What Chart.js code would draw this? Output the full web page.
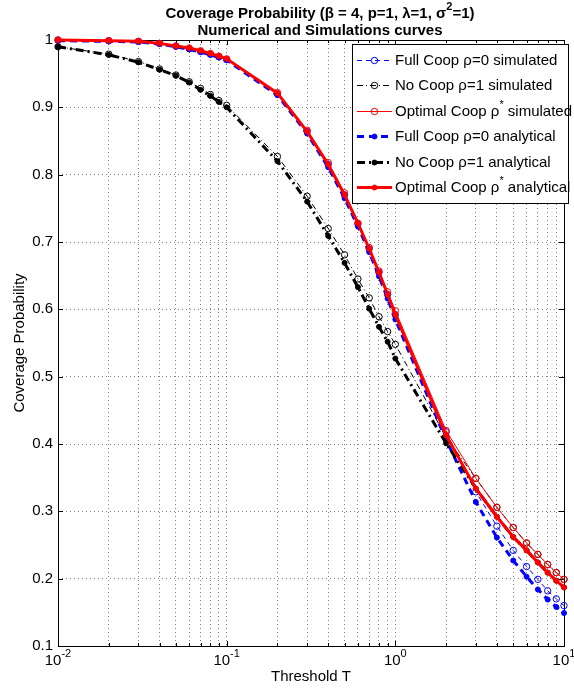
<!DOCTYPE html>
<html>
<head>
<meta charset="utf-8">
<script src="https://cdn.jsdelivr.net/npm/chart.js@4.4.1/dist/chart.umd.min.js"></script>
<style>
    body { margin: 0; background: #fff; }
    #wrap { width: 574px; height: 690px; }
</style>
</head>
<body>
<div id="wrap"><canvas id="coverage-chart"></canvas></div>
<script>
"use strict";

// threshold T values where curves were evaluated
const thresholds = [0.01, 0.02, 0.03, 0.04, 0.05, 0.06, 0.07, 0.08, 0.09,
    0.1, 0.2, 0.3, 0.4, 0.5, 0.6, 0.7, 0.8, 0.9,
    1, 2, 3, 4, 5, 6, 7, 8, 9, 10];

const fullCoopSim = [1.000, 0.999, 0.998, 0.995, 0.991, 0.987, 0.983, 0.979, 0.975,
    0.971, 0.920, 0.864, 0.815, 0.770, 0.727, 0.690, 0.655, 0.622,
    0.592, 0.418, 0.329, 0.278, 0.242, 0.218, 0.199, 0.182, 0.170, 0.160];
const noCoopSim = [0.990, 0.979, 0.968, 0.957, 0.948, 0.938, 0.928, 0.919, 0.910,
    0.903, 0.827, 0.768, 0.720, 0.681, 0.645, 0.617, 0.589, 0.567,
    0.548, 0.410, 0.349, 0.306, 0.276, 0.253, 0.236, 0.221, 0.209, 0.199];
const optCoopSim = [1.000, 0.999, 0.998, 0.995, 0.991, 0.988, 0.984, 0.980, 0.976,
    0.972, 0.922, 0.866, 0.818, 0.773, 0.728, 0.692, 0.657, 0.626,
    0.598, 0.420, 0.349, 0.306, 0.276, 0.253, 0.236, 0.221, 0.209, 0.199];
const fullCoopAna = [0.999, 0.998, 0.997, 0.994, 0.990, 0.986, 0.982, 0.978, 0.974,
    0.970, 0.918, 0.861, 0.811, 0.765, 0.723, 0.685, 0.649, 0.616,
    0.585, 0.406, 0.314, 0.261, 0.227, 0.203, 0.184, 0.169, 0.158, 0.149];
const noCoopAna = [0.990, 0.978, 0.967, 0.956, 0.947, 0.937, 0.926, 0.917, 0.908,
    0.900, 0.820, 0.760, 0.709, 0.669, 0.633, 0.601, 0.574, 0.552,
    0.527, 0.401, 0.334, 0.292, 0.262, 0.242, 0.224, 0.209, 0.197, 0.187];
const optCoopAna = [1.000, 0.999, 0.998, 0.995, 0.991, 0.988, 0.984, 0.980, 0.976,
    0.972, 0.921, 0.864, 0.815, 0.770, 0.728, 0.690, 0.655, 0.622,
    0.592, 0.413, 0.334, 0.292, 0.262, 0.242, 0.224, 0.209, 0.197, 0.187];

const seriesLabels = [
    'Full Coop ρ=0 simulated',
    'No Coop ρ=1 simulated',
    'Optimal Coop ρ^{*} simulated',
    'Full Coop ρ=0 analytical',
    'No Coop ρ=1 analytical',
    'Optimal Coop ρ^{*} analytical'
];

const titleLines = ['Coverage Probability (β = 4, p=1, λ=1, σ^{2}=1)', 'Numerical and Simulations curves'];
const xAxisTitle = 'Threshold T';
const yAxisTitle = 'Coverage Probability';

const yTicks = [0.1, 0.2, 0.3, 0.4, 0.5, 0.6, 0.7, 0.8, 0.9, 1];
const yTickLabels = ['0.1', '0.2', '0.3', '0.4', '0.5', '0.6', '0.7', '0.8', '0.9', '1'];
const xTicks = [0.01, 0.1, 1, 10];
const xTickLabels = ['10^{-2}', '10^{-1}', '10^{0}', '10^{1}'];
const xGridTicks = [0.01, 0.02, 0.03, 0.04, 0.05, 0.06, 0.07, 0.08, 0.09,
    0.1, 0.2, 0.3, 0.4, 0.5, 0.6, 0.7, 0.8, 0.9,
    1, 2, 3, 4, 5, 6, 7, 8, 9, 10];

const FONT = '"Liberation Sans", Arial, Helvetica, sans-serif';

const richParts = (text) => {
    const parts = [];
    const re = /\^\{([^}]*)\}/g;
    let last = 0, m;
    while ((m = re.exec(text))) {
        if (m.index > last) parts.push({ t: text.slice(last, m.index), sup: false });
        parts.push({ t: m[1], sup: true });
        last = re.lastIndex;
    }
    if (last < text.length) parts.push({ t: text.slice(last), sup: false });
    return parts;
};

const drawRich = (ctx, text, x, y, size, bold, align) => {
    const parts = richParts(text);
    const weight = bold ? 'bold ' : '';
    const mainFont = `${weight}${size}px ${FONT}`;
    const supFont = `${weight}${Math.round(size * 0.7)}px ${FONT}`;
    let width = 0;
    parts.forEach(p => {
        ctx.font = p.sup ? supFont : mainFont;
        p.w = ctx.measureText(p.t).width;
        width += p.w;
    });
    let cx = align === 'center' ? x - width / 2 : (align === 'right' ? x - width : x);
    ctx.textAlign = 'left';
    ctx.textBaseline = 'middle';
    parts.forEach(p => {
        ctx.font = p.sup ? supFont : mainFont;
        ctx.fillText(p.t, cx, p.sup ? y - size * 0.45 : y);
        cx += p.w;
    });
};

const drawLegend = (chart) => {
    const ctx = chart.ctx;
    ctx.save();
    ctx.fillStyle = '#fff';
    ctx.fillRect(352.5, 44.5, 216, 159);
    ctx.strokeStyle = '#000';
    ctx.lineWidth = 1;
    ctx.strokeRect(352.5, 44.5, 216, 159);

    chart.data.datasets.forEach((ds, i) => {
        const yy = Math.round(60 + i * 25.4) + 0.5;
        ctx.save();
        ctx.strokeStyle = ds.borderColor;
        ctx.lineWidth = ds.borderWidth;
        ctx.setLineDash(ds.borderDash || []);
        ctx.beginPath();
        ctx.moveTo(357, yy);
        ctx.lineTo(392, yy);
        ctx.stroke();
        ctx.setLineDash([]);
        ctx.beginPath();
        ctx.arc(374.5, yy, ds.pointRadius, 0, 2 * Math.PI);
        ctx.fillStyle = ds.pointBackgroundColor;
        ctx.fill();
        ctx.lineWidth = ds.pointBorderWidth;
        ctx.strokeStyle = ds.pointBorderColor;
        ctx.stroke();
        ctx.restore();

        ctx.fillStyle = '#000';
        drawRich(ctx, seriesLabels[i], 395, yy, 15, false, 'left');
    });
    ctx.restore();
};

const matlabDecor = {
    id: 'matlabDecor',
    beforeDatasetsDraw(chart) {
        const { ctx, chartArea: a, scales: { x, y } } = chart;
        ctx.save();
        ctx.strokeStyle = '#000';
        ctx.lineWidth = 1;
        ctx.beginPath();
        xGridTicks.forEach(v => {
            const px = Math.round(x.getPixelForValue(v)) + 0.5;
            const len = xTicks.includes(v) ? 5 : 3;
            ctx.moveTo(px, a.bottom);
            ctx.lineTo(px, a.bottom - len);
            ctx.moveTo(px, a.top);
            ctx.lineTo(px, a.top + len);
        });
        yTicks.forEach(v => {
            const py = Math.round(y.getPixelForValue(v)) + 0.5;
            ctx.moveTo(a.left, py);
            ctx.lineTo(a.left + 5, py);
            ctx.moveTo(a.right, py);
            ctx.lineTo(a.right - 5, py);
        });
        ctx.stroke();
        ctx.strokeRect(Math.round(a.left) + 0.5, Math.round(a.top) + 0.5,
            Math.round(a.right - a.left), Math.round(a.bottom - a.top));
        ctx.restore();
    },
    afterDraw(chart) {
        const { ctx, chartArea: a, scales: { x, y } } = chart;
        ctx.save();
        ctx.fillStyle = '#000';

        yTicks.forEach((v, i) => {
            drawRich(ctx, yTickLabels[i], a.left - 5, y.getPixelForValue(v), 15, false, 'right');
        });
        xTicks.forEach((v, i) => {
            drawRich(ctx, xTickLabels[i], x.getPixelForValue(v), a.bottom + 15, 15, false, 'center');
        });

        drawRich(ctx, xAxisTitle, (a.left + a.right) / 2, a.bottom + 31, 15, false, 'center');

        ctx.save();
        ctx.translate(20, (a.top + a.bottom) / 2);
        ctx.rotate(-Math.PI / 2);
        drawRich(ctx, yAxisTitle, 0, 0, 15, false, 'center');
        ctx.restore();

        drawRich(ctx, titleLines[0], 320, 14, 15, true, 'center');
        drawRich(ctx, titleLines[1], 320, 31, 15, true, 'center');

        ctx.restore();
        drawLegend(chart);
    }
};

const makeSeries = (label, values, color, width, dash, filled, order) => ({
    label: label.replace(/\^\{([^}]*)\}/g, '$1'),
    data: thresholds.map((t, i) => ({ x: t, y: values[i] })),
    borderColor: color,
    backgroundColor: color,
    borderWidth: width,
    borderDash: dash,
    pointRadius: filled ? 2.5 : 3.2,
    pointBorderWidth: 1,
    pointBackgroundColor: filled ? color : 'rgba(0,0,0,0)',
    pointBorderColor: color,
    pointHoverRadius: 3,
    tension: 0,
    fill: false,
    clip: false,
    order: order
});

const datasets = [
    makeSeries(seriesLabels[0], fullCoopSim, '#0000ff', 1, [5, 4], false, 5),
    makeSeries(seriesLabels[1], noCoopSim, '#000000', 1, [6, 3, 1, 3], false, 4),
    makeSeries(seriesLabels[2], optCoopSim, '#ff0000', 1, [], false, 3),
    makeSeries(seriesLabels[3], fullCoopAna, '#0000ff', 3, [7, 5], true, 2),
    makeSeries(seriesLabels[4], noCoopAna, '#000000', 3, [8, 4, 2, 4], true, 1),
    makeSeries(seriesLabels[5], optCoopAna, '#ff0000', 3, [], true, 0)
];

const gridOpts = {
    color: 'rgba(0, 0, 0, 0.5)',
    lineWidth: 1,
    drawTicks: false
};

const ctx = document.getElementById('coverage-chart').getContext('2d');
new Chart(ctx, {
    type: 'line',
    data: { datasets: datasets },
    options: {
        responsive: true,
        maintainAspectRatio: false,
        animation: false,
        events: [],
        layout: {
            padding: { left: 58, right: 10, top: 40, bottom: 44 }
        },
        plugins: {
            legend: { display: false },
            title: { display: false },
            tooltip: { enabled: false }
        },
        scales: {
            x: {
                type: 'logarithmic',
                min: 0.01,
                max: 10,
                afterBuildTicks: (scale) => {
                    scale.ticks = xGridTicks.map(v => ({ value: v }));
                },
                ticks: { display: false },
                grid: gridOpts,
                border: { display: false, dash: [1, 3] }
            },
            y: {
                type: 'linear',
                min: 0.1,
                max: 1,
                afterBuildTicks: (scale) => {
                    scale.ticks = yTicks.map(v => ({ value: v }));
                },
                ticks: { display: false },
                grid: gridOpts,
                border: { display: false, dash: [1, 3] }
            }
        }
    },
    plugins: [matlabDecor]
});
</script>
</body>
</html>
